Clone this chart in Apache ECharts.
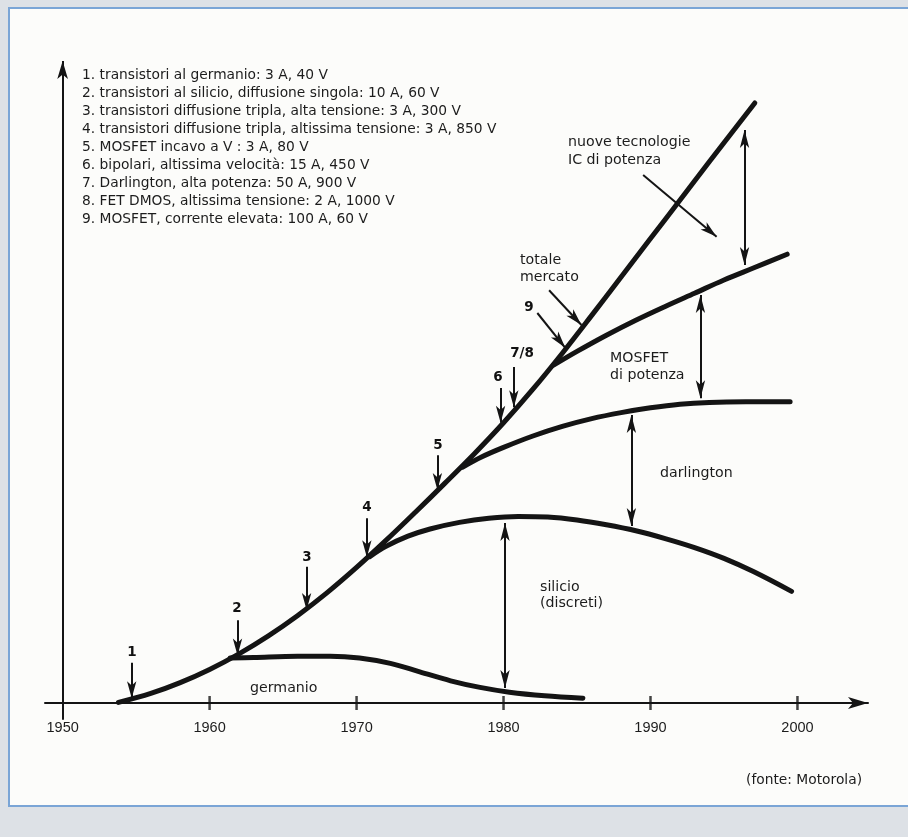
<!DOCTYPE html>
<html lang="it">
<head>
<meta charset="UTF-8">
<title>Mercato dei semiconduttori di potenza</title>
<script src="https://cdn.jsdelivr.net/npm/echarts@6.0.0/dist/echarts.min.js"></script>
<style>
    html, body { margin: 0; padding: 0; background: #dde1e6; }
    #main { width: 908px; height: 837px; }
</style>
</head>
<body>
<div id="main"></div>
<script>
// x = anno, y = volume di mercato (unita' arbitrarie)
var yearLabels = [1950, 1960, 1970, 1980, 1990, 2000];
var tickYears = [1960, 1970, 1980, 1990, 2000];

var totale = [[1953.8, 0.1], [1956, 1.6], [1958, 3.4], [1960, 5.6], [1962, 8.2], [1964, 11.2],
    [1966, 14.6], [1968, 18.4], [1970, 22.6], [1972, 27.1], [1974, 31.8], [1976, 36.6],
    [1978, 41.5], [1980, 46.7], [1982, 52.3], [1984, 58.3], [1986, 64.6], [1988, 71.0],
    [1990, 77.4], [1992, 83.8], [1994, 90.2], [1997.1, 100]];
var germanio = [[1961.4, 7.5], [1963, 7.6], [1966, 7.8], [1968.2, 7.8], [1970.2, 7.5], [1972.3, 6.6],
    [1974.3, 5.2], [1976.4, 3.7], [1978.4, 2.6], [1980.4, 1.8], [1982.8, 1.2], [1985.4, 0.8]];
var silicio = [[1970.9, 24.4], [1972, 26.1], [1973.5, 27.8], [1975, 29.0], [1977, 30.1], [1979, 30.8],
    [1981, 31.1], [1983, 31.0], [1985, 30.5], [1987, 29.7], [1989, 28.7], [1991, 27.4],
    [1993, 25.9], [1995, 24.1], [1997, 21.9], [1999.6, 18.6]];
var darlington = [[1977.2, 39.3], [1978.5, 41.0], [1980, 42.6], [1982, 44.5], [1984, 46.1], [1986, 47.4],
    [1988, 48.4], [1990, 49.2], [1992, 49.8], [1994, 50.1], [1996.5, 50.2], [1999.5, 50.2]];
var mosfet = [[1983.4, 56.3], [1985, 58.6], [1987, 61.3], [1989, 63.8], [1991, 66.1], [1993, 68.3],
    [1995, 70.5], [1997, 72.5], [1999.3, 74.8]];

// frecce di richiamo: [coda, punta]
var pointerArrows = [
    [[1954.7, 6.7], [1954.7, 0.8]],
    [[1961.9, 13.8], [1961.9, 7.9]],
    [[1966.6, 22.7], [1966.6, 15.5]],
    [[1970.7, 30.8], [1970.7, 24.3]],
    [[1975.5, 41.3], [1975.5, 35.5]],
    [[1979.8, 52.5], [1979.8, 46.7]],
    [[1980.7, 56.0], [1980.7, 49.3]],
    [[1982.3, 65.0], [1984.2, 59.2]],
    [[1983.1, 68.8], [1985.3, 63.0]],
    [[1989.5, 88.0], [1994.5, 77.7]]
];
// frecce doppie tra le curve
var gapArrows = [
    [[1996.4, 95.5], [1996.4, 73.0]],
    [[1993.4, 68.0], [1993.4, 50.8]],
    [[1988.7, 48.0], [1988.7, 29.5]],
    [[1980.1, 30.0], [1980.1, 2.5]]
];

var legendLines = [
    '1. transistori al germanio: 3 A, 40 V',
    '2. transistori al silicio, diffusione singola: 10 A, 60 V',
    '3. transistori diffusione tripla, alta tensione: 3 A, 300 V',
    '4. transistori diffusione tripla, altissima tensione: 3 A, 850 V',
    '5. MOSFET incavo a V : 3 A, 80 V',
    '6. bipolari, altissima velocità: 15 A, 450 V',
    '7. Darlington, alta potenza: 50 A, 900 V',
    '8. FET DMOS, altissima tensione: 2 A, 1000 V',
    '9. MOSFET, corrente elevata: 100 A, 60 V'
];

var FONT = '"DejaVu Sans", sans-serif';
var AXIS_FONT = '"Liberation Sans", Arial, sans-serif';
var INK = '#141414';

var myChart = echarts.init(document.getElementById('main'));

function segs(list) {
    return list.map(function (s) {
        return [{ coord: s[0] }, { coord: s[1] }];
    });
}

function curve(name, data) {
    return {
        name: name,
        type: 'line',
        data: data,
        showSymbol: false,
        smooth: 0.35,
        silent: true,
        lineStyle: { color: INK, width: 5, cap: 'round', join: 'round' }
    };
}

function arrowLines(name, symbols, size, data) {
    return {
        name: name,
        type: 'line',
        data: [],
        markLine: {
            silent: true,
            animation: false,
            symbol: symbols,
            symbolSize: size,
            label: { show: false },
            lineStyle: { color: INK, width: 2, type: 'solid' },
            data: data
        }
    };
}

function txt(s, x, y, size, opts) {
    opts = opts || {};
    return {
        type: 'text',
        x: x,
        y: y,
        silent: true,
        style: {
            text: s,
            fill: opts.fill || '#1c1c1c',
            font: (opts.bold ? 'bold ' : '') + size + 'px ' + FONT,
            textAlign: opts.align || 'left',
            textVerticalAlign: 'middle'
        }
    };
}

var graphics = [{
    type: 'rect',
    z: -10,
    silent: true,
    shape: { x: 9, y: 8, width: 910, height: 798 },
    style: { fill: '#fcfcfa', stroke: '#7aa5d6', lineWidth: 2 }
}];
legendLines.forEach(function (s, i) {
    graphics.push(txt(s, 82, 75 + i * 18.1, 13.8));
});
[
    ['nuove tecnologie', 568, 142], ['IC di potenza', 568, 160],
    ['totale', 520, 260], ['mercato', 520, 277],
    ['MOSFET', 610, 358], ['di potenza', 610, 375],
    ['darlington', 660, 473],
    ['silicio', 540, 587], ['(discreti)', 540, 603],
    ['germanio', 250, 688]
].forEach(function (t) {
    graphics.push(txt(t[0], t[1], t[2], 14.2));
});
[
    ['1', 132, 652], ['2', 237, 608], ['3', 307, 557], ['4', 367, 507],
    ['5', 438, 445], ['6', 498, 377], ['7/8', 522, 353], ['9', 529, 307]
].forEach(function (t) {
    graphics.push(txt(t[0], t[1], t[2], 13.5, { bold: true, align: 'center', fill: '#111' }));
});
graphics.push(txt('(fonte: Motorola)', 746, 780, 13.8));

var option = {
    backgroundColor: '#dde1e6',
    animation: false,
    grid: { left: 45, right: 40, top: 61, bottom: 116, outerBoundsMode: 'none' },
    xAxis: {
        type: 'value',
        min: 1948.8,
        max: 2004.8,
        axisLine: {
            onZero: true,
            symbol: ['none', 'arrow'],
            symbolSize: [9, 20],
            lineStyle: { color: INK, width: 2 }
        },
        axisTick: { show: false },
        splitLine: { show: false },
        axisLabel: {
            customValues: yearLabels,
            margin: -1,
            color: '#1c1c1c',
            fontSize: 14.5,
            fontFamily: AXIS_FONT,
            formatter: function (v) { return String(v); }
        }
    },
    yAxis: {
        type: 'value',
        min: -3,
        max: 107,
        axisLine: { show: false },
        axisTick: { show: false },
        axisLabel: { show: false },
        splitLine: { show: false }
    },
    graphic: graphics,
    series: [
        curve('totale mercato', totale),
        curve('germanio', germanio),
        curve('silicio', silicio),
        curve('darlington', darlington),
        curve('MOSFET di potenza', mosfet),
        {
            name: 'tacche',
            type: 'scatter',
            silent: true,
            symbol: 'rect',
            symbolSize: [2.5, 14],
            itemStyle: { color: INK },
            data: tickYears.map(function (y) { return [y, 0]; })
        },
        arrowLines('asse y', ['none', 'arrow'], [8, 18],
            [[{ coord: [1950, -2.8] }, { coord: [1950, 107] }]]),
        arrowLines('richiami', ['none', 'arrow'], [7, 17], segs(pointerArrows)),
        arrowLines('differenze', ['arrow', 'arrow'], [7, 18], segs(gapArrows))
    ]
};

myChart.setOption(option);
</script>
</body>
</html>
